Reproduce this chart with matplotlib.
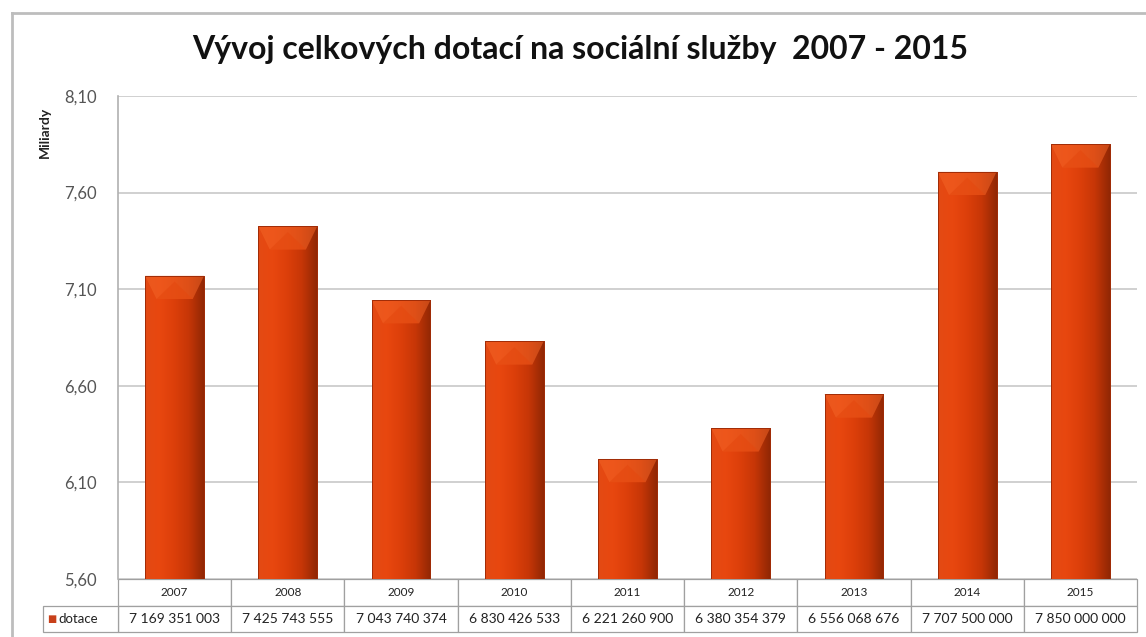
import matplotlib
matplotlib.use("Agg")
import matplotlib.pyplot as plt
import numpy as np
from matplotlib.colors import LinearSegmentedColormap
from matplotlib.patches import Polygon
from matplotlib.lines import Line2D

# data
years = ["2007", "2008", "2009", "2010", "2011", "2012", "2013", "2014", "2015"]
dotace = [7169351003, 7425743555, 7043740374, 6830426533, 6221260900,
          6380354379, 6556068676, 7707500000, 7850000000]
yticks = [5.60, 6.10, 6.60, 7.10, 7.60, 8.10]

plt.rcParams['font.family'] = ['Lato', 'DejaVu Sans']

W, H = 1146, 637
fig = plt.figure(figsize=(W / 100, H / 100), dpi=100)
ax = fig.add_axes([118 / W, 1 - 579 / H, 1019 / W, 483 / H])

x = np.arange(len(years))
vals = np.array(dotace) / 1e9
bw = 0.52

bars = ax.bar(x, vals - 5.6, bottom=5.6, width=bw, color='#e0420f',
              edgecolor='#9c2a06', linewidth=0.6, zorder=3)

# shading across each bar
cmap = LinearSegmentedColormap.from_list('barshade', ['#e34a14', '#e8470f', '#dc3f0a', '#c63607', '#922704'])
grad = np.linspace(0, 1, 64).reshape(1, -1)
for b, v in zip(bars, vals):
    x0 = b.get_x()
    x1 = x0 + b.get_width()
    im = ax.imshow(grad, cmap=cmap, aspect='auto', extent=(x0, x1, 5.6, v), zorder=4)
    im.set_clip_path(b)
    # top bevel, kept soft
    h = 0.12
    d = 0.1
    ax.add_patch(Polygon([(x0, v), (x1, v), (x1 - d, v - h), (x0 + d, v - h)],
                         closed=True, facecolor='#f26426', edgecolor='none', alpha=0.55, zorder=5))
    ax.add_patch(Polygon([(x0 + d, v - h), (x1 - d, v - h), ((x0 + x1) / 2, v - 0.03)],
                         closed=True, facecolor='#e4480f', edgecolor='none', alpha=0.6, zorder=6))
    ax.add_patch(Polygon([(x0, v), (x1, v), (x1, 5.6), (x0, 5.6)], closed=True,
                         facecolor='none', edgecolor='#a02c07', linewidth=0.7, zorder=7))

ax.set_xlim(-0.5, len(years) - 0.5)
ax.set_ylim(5.6, 8.1)
ax.set_yticks(yticks)
ax.set_yticklabels([f"{t:.2f}".replace('.', ',') for t in yticks], fontsize=12, color='#555555')
ax.set_xticks([])
ax.tick_params(axis='y', length=0, pad=15)
ax.grid(axis='y', color='#c8c8c8', linewidth=1.2, zorder=0)
for s in ['top', 'right', 'bottom']:
    ax.spines[s].set_visible(False)
ax.spines['left'].set_color('#b0b0b0')
ax.spines['left'].set_linewidth(1.2)

ax.text(-73 / 1019, 0.925, 'Miliardy', transform=ax.transAxes, rotation=90,
        fontsize=10, fontweight='bold', ha='center', va='center', color='#222222')

# data table under the bars
th = 53 / 483
vals_txt = [f"{v:,}".replace(',', ' ') for v in dotace]
tbl = ax.table(cellText=[years, vals_txt], cellLoc='center', bbox=[0, -th, 1, th])
tbl.auto_set_font_size(False)
for (r, c), cell in tbl.get_celld().items():
    cell.set_edgecolor('#a0a0a0')
    cell.set_linewidth(0.9)
    cell.get_text().set_fontsize(8.5 if r == 0 else 10)
    cell.get_text().set_color('#222222')

lw = 75 / 1019
lab = ax.table(cellText=[[''], ['']], cellLoc='center', bbox=[-lw, -th, lw, th])
lab.auto_set_font_size(False)
for (r, c), cell in lab.get_celld().items():
    cell.set_edgecolor('#a0a0a0')
    cell.set_linewidth(0.9)
    if r == 0:
        cell.visible_edges = ''
ax.text(-lw + 0.004, -th * 0.75, '■', transform=ax.transAxes, fontsize=7,
        color='#c8401a', ha='left', va='center', family=['DejaVu Sans'])
ax.text(-lw + 0.015, -th * 0.75, 'dotace', transform=ax.transAxes, fontsize=9.5,
        color='#222222', ha='left', va='center')

# title
fig.text(580 / W, 1 - 50 / H, 'Vývoj celkových dotací na sociální služby  2007 - 2015',
         ha='center', va='center', fontsize=23, fontweight='bold', color='#111111')

# outer chart border (top and left visible)
fig.add_artist(Line2D([12 / W, 1.0], [1 - 13 / H, 1 - 13 / H], transform=fig.transFigure,
                      color='#bdbdbd', linewidth=2))
fig.add_artist(Line2D([12 / W, 12 / W], [0.0, 1 - 13 / H], transform=fig.transFigure,
                      color='#bdbdbd', linewidth=2))

fig.savefig('out.png', dpi=100)
